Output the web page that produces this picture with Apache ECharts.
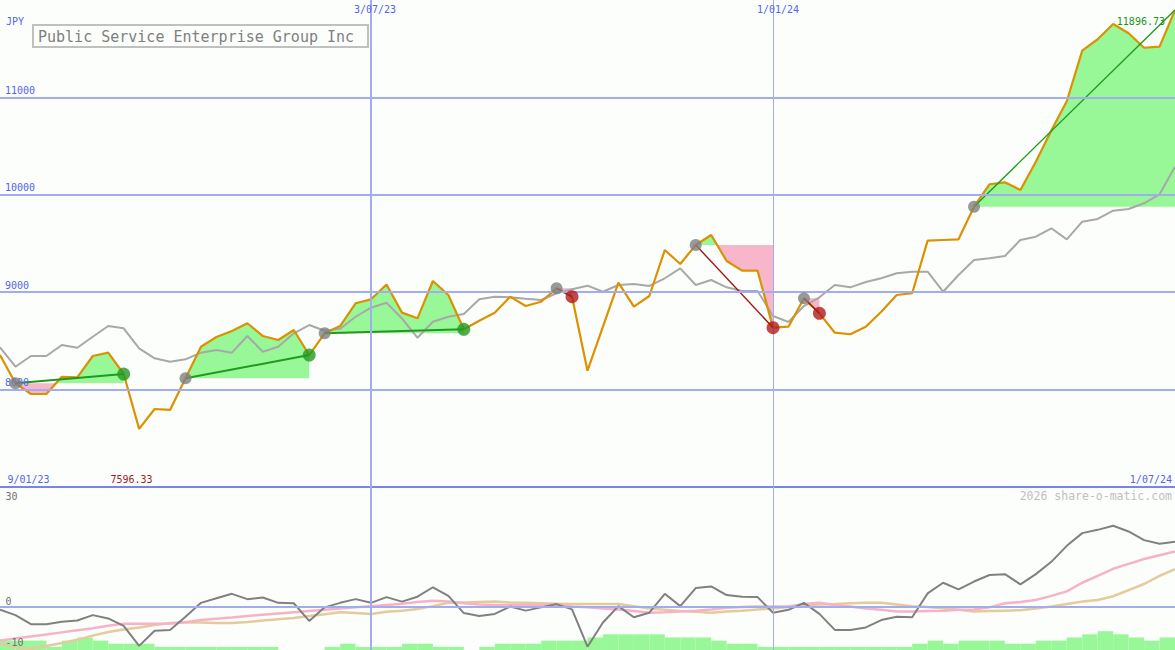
<!DOCTYPE html>
<html><head><meta charset="utf-8">
<script src="https://cdn.jsdelivr.net/npm/echarts@6/dist/echarts.min.js"></script>
<style>html,body{margin:0;padding:0;background:#fcfefc}#c{width:1175px;height:650px}</style>
</head><body><div id="c"></div>
<script>
// ---------------- data ----------------
const TITLE = 'Public Service Enterprise Group Inc';
const CURRENCY = 'JPY';
// closing price (orange line), one point per period
const close = [8355, 8065, 7955, 7955, 8132, 8126, 8345, 8379, 8160, 7596.33,
  7801, 7791, 8116, 8440, 8540, 8602, 8681, 8550, 8509, 8612,
  8355, 8578, 8653, 8886, 8927, 9079, 8790, 8732, 9115, 8971,
  8619, 8707, 8790, 8954, 8858, 8902, 9040, 8954, 8194, 8646,
  9098, 8851, 8961, 9433, 9290, 9485, 9587, 9320, 9221, 9221,
  8636, 8646, 8937, 8783, 8584, 8568, 8646, 8800, 8971, 8989,
  9529, 9536, 9543, 9878, 10108, 10128, 10049, 10340, 10660, 10960,
  11480, 11597, 11754, 11658, 11510, 11521, 11896.73];
// comparison / average line (grey)
const avg = [8434, 8235, 8345, 8345, 8458, 8430, 8543, 8653, 8629, 8424,
  8321, 8286, 8311, 8379, 8407, 8379, 8550, 8389, 8440, 8578,
  8663, 8604, 8625, 8748, 8841, 8892, 8730, 8533, 8697, 8748,
  8776, 8927, 8954, 8948, 8933, 8920, 8989, 9030, 9067, 9005,
  9074, 9084, 9064, 9143, 9245, 9074, 9125, 9050, 9012, 9012,
  8756, 8694, 8858, 8948, 9074, 9050, 9105, 9143, 9194, 9211,
  9211, 9005, 9177, 9331, 9348, 9372, 9536, 9570, 9656, 9543,
  9724, 9752, 9837, 9854, 9913, 10005, 10289];
// lower panel: oscillator and its two signal lines
const osc = [-0.7, -2.0, -4.2, -4.2, -3.6, -3.3, -2.0, -2.8, -4.6, -9.5,
  -5.8, -5.6, -2.4, 1.0, 2.1, 3.2, 1.9, 2.3, 1.0, 0.9,
  -3.4, -0.1, 1.0, 1.9, 1.0, 2.4, 1.3, 2.5, 4.8, 2.7,
  -1.5, -2.2, -1.7, 0.1, -0.9, -0.1, 0.7, -0.6, -9.7, -3.8,
  0.2, -2.5, -1.4, 3.2, 0.2, 4.6, 5.0, 2.9, 2.5, 2.4,
  -1.4, -0.7, 1.0, -1.7, -5.6, -5.6, -5.0, -3.2, -2.4, -2.5,
  3.3, 5.9, 4.3, 6.2, 7.8, 8.0, 5.5, 8.0, 11.0, 14.9,
  18.0, 18.8, 19.8, 18.4, 16.3, 15.4, 15.9];
const sig1 = [-8.2, -7.7, -7.2, -6.7, -6.2, -5.7, -5.2, -4.6, -4.1, -4.1,
  -4.1, -4.1, -3.7, -3.2, -2.9, -2.6, -2.2, -1.9, -1.6, -1.3,
  -1.0, -0.7, -0.4, -0.1, 0.2, 0.5, 0.8, 1.2, 1.5, 1.3,
  0.9, 0.6, 0.5, 0.5, 0.5, 0.5, 0.5, 0.1, -0.1, -0.4,
  -0.6, -1.0, -1.4, -1.3, -1.1, -0.9, -0.6, -0.2, 0.0, 0.1,
  0.1, 0.1, 0.7, 1.0, 0.5, 0.1, -0.4, -0.7, -1.1, -1.1,
  -1.0, -0.9, -0.7, -0.6, -0.1, 0.9, 1.2, 1.7, 2.7, 3.8,
  5.9, 7.6, 9.3, 10.5, 11.7, 12.6, 13.5];
const sig2 = [-9.0, -9.8, -10.2, -9.5, -8.8, -8.0, -7.0, -6.1, -5.5, -5.0,
  -4.4, -3.9, -3.8, -3.8, -3.9, -3.9, -3.7, -3.3, -3.0, -2.7,
  -2.2, -1.8, -1.3, -1.5, -1.7, -1.2, -0.9, -0.5, 0.2, 1.0,
  1.1, 1.2, 1.3, 1.1, 1.0, 0.9, 0.8, 0.7, 0.7, 0.7,
  0.7, 0.2, -0.4, -0.7, -1.0, -1.2, -1.4, -1.1, -0.9, -0.6,
  -0.4, 0.0, 0.4, 0.6, 0.7, 0.9, 1.0, 1.0, 0.6, 0.2,
  0.0, -0.3, -0.7, -1.1, -1.0, -0.9, -0.8, -0.4, 0.1, 0.7,
  1.3, 1.7, 2.6, 4.1, 5.6, 7.6, 9.2];
// lower panel volume-like step bars (one per period interval)
const vol = [3, 3, 3, 1, 3, 4, 3, 2, 2, 2,
  1, 1, 1, 1, 1, 1, 1, 1, 0, 0,
  0, 1, 2, 1, 1, 1, 2, 2, 1, 1,
  0, 1, 2, 2, 2, 3, 3, 3, 4, 5,
  5, 5, 5, 4, 4, 4, 3, 2, 2, 1,
  1, 1, 1, 1, 1, 1, 1, 1, 1, 2,
  3, 2, 3, 3, 3, 2, 2, 3, 3, 4,
  5, 6, 5, 4, 3, 4];
// trades: entry and exit period indexes (a trade ending on the last period is still open)
const tradeEntry = [1, 12, 21, 36, 45, 52, 63];
const tradeExit = [8, 20, 30, 37, 50, 53, 76];
// tick labels
const priceTicks = [8000, 9000, 10000, 11000];
const markerIdx = [24, 50];
const topDates = ['3/07/23', '1/01/24'];
const bottomDates = ['9/01/23', '1/07/24'];
const oscLabels = ['30', '0', '-10'];
const minLabel = '7596.33';
const lastLabel = '11896.73';
const credit = '2026 share-o-matic.com';

// ---------------- styles ----------------
const FONT = '"DejaVu Sans Mono", "Liberation Mono", monospace';
const C = {
  bg: '#fcfefc', grid: '#a3acf0', sep: '#7884ea', blue: '#5662ee',
  orange: '#dc9100', grey: '#a8a8a8', osc: '#808080', pink: '#f7b2c6', tan: '#e3cb9b',
  gFill: '#98f898', pFill: '#f8b6ca', gLine: '#1f9a1f', rLine: '#a01616',
  gDot: '#229a22', rDot: '#b01c1c', eDot: '#808080'
};
const TRADE_LINE_W = [2, 2, 2, 1.4, 1.4, 1.4, 1.4];
const V_LINE_W = [2, 1];
const Y_MIN = 7000, Y_MAX = 12000;

const N = close.length;
const series = [];
const visualMap = [];

// upper panel gridlines + labels
series.push({
  type: 'line', xAxisIndex: 0, yAxisIndex: 0, data: [], silent: true, z: 0,
  markLine: {
    silent: true, symbol: ['none', 'none'], animation: false,
    data: [
      ...priceTicks.map(v => ({
        yAxis: v, lineStyle: { color: C.grid, width: 2, type: 'solid' },
        label: { show: true, position: 'insideStartTop', formatter: String(v), color: C.blue,
          fontFamily: FONT, fontSize: 10, distance: [5, 2] }
      })),
      ...markerIdx.map((v, j) => ({ xAxis: v, lineStyle: { color: C.grid, width: V_LINE_W[j], type: 'solid' }, label: { show: false } }))
    ]
  }
});

// trade fills (green above entry price, pink below)
tradeEntry.forEach((e, k) => {
  const x = tradeExit[k];
  const base = close[e];
  const data = [];
  for (let i = e; i <= x; i++) data.push([i, close[i]]);
  visualMap.push({
    type: 'piecewise', show: false, seriesIndex: series.length, dimension: 1,
    pieces: [{ gte: Y_MIN - 1000, lt: base, color: C.pFill }, { gte: base, lte: Y_MAX + 1000, color: C.gFill }]
  });
  series.push({
    type: 'line', xAxisIndex: 0, yAxisIndex: 0, data, symbol: 'none', silent: true, z: 1,
    lineStyle: { width: 0 }, areaStyle: { origin: base, opacity: 1 }
  });
});

// grey comparison line
series.push({
  type: 'line', xAxisIndex: 0, yAxisIndex: 0, data: avg.map((v, i) => [i, v]),
  symbol: 'none', silent: true, z: 2, lineStyle: { color: C.grey, width: 2 }
});
// orange price line
series.push({
  type: 'line', xAxisIndex: 0, yAxisIndex: 0, data: close.map((v, i) => [i, v]),
  symbol: 'none', silent: true, z: 3, lineStyle: { color: C.orange, width: 2.2 }
});
// trade lines
tradeEntry.forEach((e, k) => {
  const x = tradeExit[k];
  const win = close[x] >= close[e];
  series.push({
    type: 'line', xAxisIndex: 0, yAxisIndex: 0, data: [[e, close[e]], [x, close[x]]],
    symbol: 'none', silent: true, z: 4, lineStyle: { color: win ? C.gLine : C.rLine, width: TRADE_LINE_W[k] }
  });
});
// entry markers
series.push({
  type: 'scatter', xAxisIndex: 0, yAxisIndex: 0, silent: true, z: 5, symbolSize: 12,
  data: tradeEntry.map(e => [e, close[e]]), itemStyle: { color: C.eDot }
});
// exit markers (closed trades only)
const closedIdx = tradeExit.map((x, k) => k).filter(k => tradeExit[k] < N - 1);
series.push({
  type: 'scatter', xAxisIndex: 0, yAxisIndex: 0, silent: true, z: 5, symbolSize: 13,
  data: closedIdx.map(k => ({
    value: [tradeExit[k], close[tradeExit[k]]],
    itemStyle: { color: close[tradeExit[k]] >= close[tradeEntry[k]] ? C.gDot : C.rDot }
  }))
});

// lower panel gridlines
series.push({
  type: 'line', xAxisIndex: 1, yAxisIndex: 1, data: [], silent: true, z: 0,
  markLine: {
    silent: true, symbol: ['none', 'none'], animation: false, label: { show: false },
    data: [
      { yAxis: 0, lineStyle: { color: C.grid, width: 2, type: 'solid' } },
      ...markerIdx.map((v, j) => ({ xAxis: v, lineStyle: { color: C.grid, width: V_LINE_W[j], type: 'solid' } }))
    ]
  }
});
// bars
series.push({
  type: 'bar', xAxisIndex: 2, yAxisIndex: 2, data: vol, barWidth: '100%', barCategoryGap: '0%',
  silent: true, z: 1, itemStyle: { color: C.gFill }
});
series.push({ type: 'line', xAxisIndex: 1, yAxisIndex: 1, data: sig2.map((v, i) => [i, v]), symbol: 'none', silent: true, z: 2, lineStyle: { color: C.tan, width: 2.5 } });
series.push({ type: 'line', xAxisIndex: 1, yAxisIndex: 1, data: sig1.map((v, i) => [i, v]), symbol: 'none', silent: true, z: 3, lineStyle: { color: C.pink, width: 2.5 } });
series.push({ type: 'line', xAxisIndex: 1, yAxisIndex: 1, data: osc.map((v, i) => [i, v]), symbol: 'none', silent: true, z: 4, lineStyle: { color: C.osc, width: 2 } });

const txt = (text, x, y, color, opts = {}) => ({
  type: 'text', x, y, z: 100, silent: true,
  style: Object.assign({ text, fill: color, font: '10px ' + FONT, align: 'left', verticalAlign: 'middle' }, opts)
});

const option = {
  backgroundColor: C.bg,
  animation: false,
  grid: [
    { left: 0, right: 0, top: 0, height: 487 },
    { left: 0, right: 0, top: 487, height: 163 }
  ],
  xAxis: [
    { gridIndex: 0, type: 'value', min: 0, max: N - 1, axisLine: { show: true, onZero: false, lineStyle: { color: C.sep, width: 2 } },
      axisTick: { show: false }, axisLabel: { show: false }, splitLine: { show: false } },
    { gridIndex: 1, type: 'value', min: 0, max: N - 1, show: false },
    { gridIndex: 1, type: 'category', data: vol.map((_, i) => i), show: false, boundaryGap: true }
  ],
  yAxis: [
    { gridIndex: 0, type: 'value', min: Y_MIN, max: Y_MAX, show: false },
    { gridIndex: 1, type: 'value', min: -10.5, max: 29.25, show: false },
    { gridIndex: 1, type: 'value', min: 0, max: 52, show: false }
  ],
  visualMap,
  series,
  graphic: [
    { type: 'rect', z: 90, silent: true, shape: { x: 33, y: 25, width: 335, height: 22 }, style: { fill: C.bg, stroke: '#c0c0c0', lineWidth: 2 } },
    txt(TITLE, 38, 36.5, '#808080', { font: '15px ' + FONT }),
    txt(CURRENCY, 6, 21, C.blue),
    txt(topDates[0], 375, 9, C.blue, { align: 'center' }),
    txt(topDates[1], 778, 9, C.blue, { align: 'center' }),
    txt(bottomDates[0], 7.5, 479, C.blue),
    txt(bottomDates[1], 1172, 479, C.blue, { align: 'right' }),
    txt(minLabel, 110.5, 479, '#a01c1c'),
    txt(lastLabel, 1165, 21.5, '#209020', { align: 'right' }),
    txt(credit, 1172, 496, '#c0c0c0', { font: '11.5px ' + FONT, align: 'right' }),
    txt(oscLabels[0], 5.5, 496, '#707070'),
    txt(oscLabels[1], 5.5, 601.5, '#707070'),
    txt(oscLabels[2], 5.5, 642.5, '#707070')
  ]
};

const chart = echarts.init(document.getElementById('c'), null, { renderer: 'svg', width: 1175, height: 650 });
chart.setOption(option);
</script>
</body></html>
